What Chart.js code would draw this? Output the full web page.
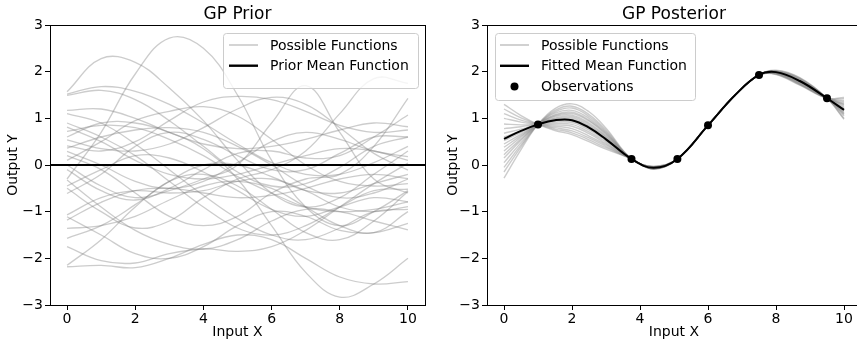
<!DOCTYPE html>
<html>
<head>
<meta charset="utf-8">
<script src="https://cdn.jsdelivr.net/npm/chart.js@4.4.0/dist/chart.umd.min.js"></script>
<style>
html, body { margin: 0; padding: 0; background: #fff; overflow: hidden; }
#prior_div { position: absolute; left: 0; top: 0; width: 440px; height: 348px; }
#posterior_div { position: absolute; left: 440px; top: 0; width: 430px; height: 348px; }
</style>
</head>
<body>
<div id="prior_div"><canvas id="prior_canvas" width="440" height="348"></canvas></div>
<div id="posterior_div"><canvas id="posterior_canvas" width="430" height="348"></canvas></div>
<script>
var x_ticks = [0, 2, 4, 6, 8, 10];
var y_ticks = [-3, -2, -1, 0, 1, 2, 3];

// prior draws, one row per function, sampled at prior_x
var prior_x = [0, 1, 2, 3, 4, 5, 6, 7, 8, 9, 10];
var prior_samples = [
    [-0.3, 0.7, 1.95, 2.72, 2.5, 1.5, 0.1, -0.9, -1.3, -1.0, -0.55],
    [1.57, 2.28, 2.2, 1.65, 0.95, 0.1, -0.6, -0.9, -0.7, -0.2, 0.3],
    [1.52, 1.68, 1.58, 1.3, 0.9, 0.45, 0.05, -0.2, -0.2, 0.05, 0.4],
    [1.49, 1.6, 1.4, 0.95, 0.4, -0.15, -0.45, -0.4, -0.05, 0.4, 0.6],
    [1.17, 1.2, 1.0, 0.7, 0.45, 0.35, 0.4, 0.55, 0.75, 0.9, 0.82],
    [0.81, 0.5, 0.1, -0.2, -0.3, -0.2, 0.0, 0.2, 0.35, 0.3, 0.1],
    [0.72, 0.85, 0.8, 0.55, 0.2, -0.25, -0.6, -0.9, -1.0, -0.95, -0.79],
    [0.54, 0.35, 0.3, 0.45, 0.8, 1.2, 1.45, 1.3, 0.8, 0.25, -0.11],
    [0.41, 0.3, 0.5, 0.95, 1.35, 1.47, 1.4, 1.15, 0.85, 0.7, 0.75],
    [0.36, 0.6, 0.75, 0.8, 0.7, 0.4, 0.0, -0.45, -0.7, -0.6, -0.3],
    [0.29, 0.0, -0.35, -0.5, -0.35, 0.05, 0.5, 0.7, 0.55, 0.3, 0.18],
    [0.1, 0.5, 0.95, 1.15, 1.25, 1.05, 0.55, 0.0, -0.35, -0.45, -0.4],
    [0.0, -0.45, -0.7, -0.55, -0.3, 0.0, 0.9, 1.7, 0.7, -0.3, -0.6],
    [-0.1, -0.55, -0.75, -0.5, -0.1, 0.25, 0.3, 0.15, 0.2, 0.6, 1.07],
    [-0.32, -0.9, -1.4, -1.7, -1.8, -1.6, -1.2, -0.95, -1.0, -1.2, -1.39],
    [-0.61, -0.2, 0.4, 0.7, 0.55, 0.2, -0.1, -0.1, 0.25, 0.6, 0.6],
    [-1.07, -0.7, -0.55, -0.6, -0.55, -0.35, -0.3, -0.55, -0.9, -1.0, -0.89],
    [-1.11, -1.5, -1.9, -2.0, -1.75, -1.3, -1.0, -1.1, -1.4, -1.45, -1.25],
    [-1.18, -0.8, -0.55, -0.5, -0.6, -0.7, -0.65, -0.5, -0.3, -0.2, -0.29],
    [-1.36, -1.3, -1.1, -0.75, -0.45, -0.35, -0.5, -0.9, -1.3, -1.45, -1.0],
    [-1.57, -1.3, -0.85, -0.35, 0.0, 0.0, -0.25, -0.55, -0.6, -0.4, -0.2],
    [-1.75, -2.05, -2.1, -1.9, -1.8, -1.85, -1.75, -1.4, -0.9, -0.4, 0.04],
    [-2.15, -1.6, -0.9, -0.35, -0.2, -0.45, -0.95, -1.45, -1.6, -1.2, -0.57],
    [-2.18, -2.15, -2.2, -2.0, -1.7, -1.5, -1.6, -2.0, -2.4, -2.55, -2.5],
    [0.6, 0.9, 0.9, 0.7, 0.35, -0.3, -1.3, -2.3, -2.83, -2.55, -2.0],
    [-0.5, -1.0, -1.35, -1.2, -0.7, -0.3, -0.1, 0.3, 1.1, 1.85, 1.75],
    [0.2, -0.1, -0.6, -1.1, -1.3, -1.1, -0.6, -0.3, -0.2, 0.4, 1.43],
    [0.9, 0.6, 0.2, -0.35, -0.9, -1.35, -1.5, -1.3, -0.9, -0.55, -0.52],
    [-0.45, -0.1, 0.2, 0.15, -0.15, -0.55, -0.95, -1.1, -0.9, -0.7, -0.79],
    [1.1, 0.9, 0.45, -0.1, -0.65, -1.15, -1.5, -1.6, -1.35, -1.0, -0.95]
];
var prior_mean_x = [-0.5, 10.5];
var prior_mean_y = [0, 0];

// posterior draws and fitted mean, sampled at post_x
var post_x = [0, 0.5, 1, 1.5, 2, 2.5, 3, 3.75, 4.4, 5.1, 6, 6.8, 7.5, 8, 8.7, 9.5, 10];
var post_mean = [0.56, 0.73, 0.87, 0.96, 0.96, 0.80, 0.55, 0.13, -0.06, 0.13, 0.85, 1.50, 1.93, 1.99, 1.80, 1.43, 1.18];
var post_samples = [
    [-0.28, 0.33, 0.87, 1.21, 1.31, 1.14, 0.79, 0.13, -0.03, 0.13, 0.85, 1.50, 1.93, 1.99, 1.79, 1.43, 1.20],
    [-0.15, 0.39, 0.87, 1.17, 1.26, 1.08, 0.75, 0.13, -0.03, 0.13, 0.85, 1.50, 1.93, 2.01, 1.85, 1.43, 1.05],
    [-0.05, 0.43, 0.87, 1.14, 1.22, 1.04, 0.72, 0.13, -0.04, 0.13, 0.85, 1.50, 1.93, 1.96, 1.74, 1.43, 1.35],
    [0.05, 0.48, 0.87, 1.11, 1.17, 1.00, 0.69, 0.13, -0.04, 0.13, 0.85, 1.50, 1.93, 2.00, 1.82, 1.43, 1.12],
    [0.15, 0.53, 0.87, 1.08, 1.13, 0.96, 0.67, 0.13, -0.04, 0.13, 0.85, 1.50, 1.93, 1.95, 1.72, 1.43, 1.42],
    [0.22, 0.56, 0.87, 1.06, 1.10, 0.94, 0.65, 0.13, -0.05, 0.13, 0.85, 1.50, 1.93, 2.03, 1.87, 1.43, 0.98],
    [0.30, 0.60, 0.87, 1.04, 1.07, 0.90, 0.62, 0.13, -0.05, 0.13, 0.85, 1.50, 1.93, 1.98, 1.78, 1.43, 1.25],
    [0.38, 0.63, 0.87, 1.01, 1.04, 0.87, 0.60, 0.13, -0.05, 0.13, 0.85, 1.50, 1.93, 1.99, 1.81, 1.43, 1.15],
    [0.45, 0.66, 0.87, 0.99, 1.01, 0.84, 0.58, 0.13, -0.06, 0.13, 0.85, 1.50, 1.93, 1.97, 1.76, 1.43, 1.30],
    [0.52, 0.70, 0.87, 0.97, 0.98, 0.82, 0.56, 0.13, -0.06, 0.13, 0.85, 1.50, 1.93, 2.01, 1.84, 1.43, 1.08],
    [0.60, 0.73, 0.87, 0.95, 0.94, 0.78, 0.54, 0.13, -0.06, 0.13, 0.85, 1.50, 1.93, 1.95, 1.73, 1.43, 1.38],
    [0.68, 0.77, 0.87, 0.92, 0.91, 0.75, 0.52, 0.13, -0.07, 0.13, 0.85, 1.50, 1.93, 1.98, 1.79, 1.43, 1.22],
    [0.78, 0.82, 0.87, 0.89, 0.87, 0.71, 0.49, 0.13, -0.07, 0.13, 0.85, 1.50, 1.93, 2.02, 1.86, 1.43, 1.00],
    [0.88, 0.86, 0.87, 0.86, 0.83, 0.67, 0.46, 0.13, -0.07, 0.13, 0.85, 1.50, 1.93, 1.97, 1.77, 1.43, 1.28],
    [1.00, 0.92, 0.87, 0.83, 0.78, 0.62, 0.43, 0.13, -0.08, 0.13, 0.85, 1.50, 1.93, 1.99, 1.80, 1.43, 1.18],
    [1.10, 0.96, 0.87, 0.80, 0.73, 0.58, 0.40, 0.13, -0.08, 0.13, 0.85, 1.50, 1.93, 1.94, 1.71, 1.43, 1.45],
    [1.20, 1.01, 0.87, 0.77, 0.69, 0.54, 0.37, 0.13, -0.09, 0.13, 0.85, 1.50, 1.93, 2.00, 1.83, 1.43, 1.10],
    [1.30, 1.06, 0.87, 0.74, 0.65, 0.50, 0.34, 0.13, -0.09, 0.13, 0.85, 1.50, 1.93, 1.97, 1.75, 1.43, 1.32]
];
var obs_x = [1.0, 3.75, 5.1, 6.0, 7.5, 9.5];
var obs_y = [0.87, 0.13, 0.13, 0.85, 1.93, 1.43];

var font_family = '"DejaVu Sans", "Liberation Sans", sans-serif';
var sample_color = 'rgba(128, 128, 128, 0.4)';

function to_points(xs, ys){
    var pts = [];
    for(var i = 0; i < xs.length; i++){
        pts.push({x: xs[i], y: ys[i]});
    }
    return pts;
}

function fmt_tick(v){
    return v < 0 ? '\u2212' + Math.abs(v) : '' + v;
}

function axis_options(y_width){
    var tick_font = {family: font_family, size: 14};
    var grid = {drawOnChartArea: false, drawTicks: true, tickLength: 5, tickColor: '#000', tickWidth: 1};
    return {
        x: {
            type: 'linear', min: -0.5, max: 10.5,
            afterFit: function(s){ s.height = 43; },
            afterBuildTicks: function(s){ s.ticks = x_ticks.map(function(v){ return {value: v}; }); },
            ticks: {color: '#000', font: tick_font, padding: 1, maxRotation: 0, autoSkip: false, callback: fmt_tick},
            grid: grid,
            border: {display: false},
            title: {display: true, text: 'Input X', color: '#000', font: tick_font, padding: {top: 0, bottom: 7}}
        },
        y: {
            type: 'linear', min: -3, max: 3,
            afterFit: function(s){ s.width = y_width; },
            afterBuildTicks: function(s){ s.ticks = y_ticks.map(function(v){ return {value: v}; }); },
            ticks: {color: '#000', font: tick_font, padding: 2, autoSkip: false, callback: fmt_tick},
            grid: grid,
            border: {display: false},
            title: {display: true, text: 'Output Y', color: '#000', font: tick_font, padding: {top: 5, bottom: 0}}
        }
    };
}

// axes box, title and a boxed legend drawn over the plot
var mpl_frame = {
    id: 'mpl_frame',
    afterDraw: function(chart, args, opts){
        var ctx = chart.ctx;
        var a = chart.chartArea;
        ctx.save();
        ctx.strokeStyle = '#000';
        ctx.lineWidth = 1;
        ctx.strokeRect(Math.round(a.left) + 0.5, Math.round(a.top) + 0.5,
            Math.round(a.right - a.left), Math.round(a.bottom - a.top));

        ctx.fillStyle = '#000';
        ctx.font = '17px ' + font_family;
        ctx.textAlign = 'center';
        ctx.textBaseline = 'alphabetic';
        ctx.fillText(opts.title, (a.left + a.right) / 2, opts.title_y);

        var lg = opts.legend;
        ctx.beginPath();
        ctx.roundRect(lg.x + 0.5, lg.y + 0.5, lg.w, lg.h, 3);
        ctx.fillStyle = 'rgba(255, 255, 255, 0.8)';
        ctx.fill();
        ctx.strokeStyle = '#cccccc';
        ctx.stroke();

        var row = 0;
        ctx.font = '14px ' + font_family;
        ctx.textAlign = 'left';
        ctx.textBaseline = 'middle';
        chart.data.datasets.forEach(function(ds){
            if(!ds.label) return;
            var y = lg.row0 + row * lg.row_gap;
            if(ds.showLine === false){
                ctx.beginPath();
                ctx.arc(lg.sample_x + lg.sample_w / 2, y, ds.pointRadius, 0, Math.PI * 2);
                ctx.fillStyle = ds.pointBackgroundColor;
                ctx.fill();
            } else {
                ctx.beginPath();
                ctx.moveTo(lg.sample_x, y);
                ctx.lineTo(lg.sample_x + lg.sample_w, y);
                ctx.strokeStyle = ds.borderColor;
                ctx.lineWidth = ds.borderWidth + 0.4;
                ctx.stroke();
            }
            ctx.fillStyle = '#000';
            ctx.fillText(ds.label, lg.text_x, y + 1);
            row++;
        });
        ctx.restore();
    }
};

function draw_prior(){
    var datasets = [];
    for(var i = 0; i < prior_samples.length; i++){
        datasets.push({
            label: i === 0 ? 'Possible Functions' : '',
            data: to_points(prior_x, prior_samples[i]),
            borderColor: sample_color, borderWidth: 1.3, tension: 0.4,
            pointRadius: 0, order: 2
        });
    }
    datasets.push({
        label: 'Prior Mean Function',
        data: to_points(prior_mean_x, prior_mean_y),
        borderColor: '#000', borderWidth: 2, pointRadius: 0, order: 1
    });

    new Chart(document.getElementById('prior_canvas'), {
        type: 'line',
        data: {datasets: datasets},
        options: {
            responsive: false,
            animation: false,
            layout: {padding: {top: 25, right: 15, left: 0, bottom: 0}},
            scales: axis_options(50),
            plugins: {
                legend: {display: false},
                tooltip: {enabled: false},
                mpl_frame: {
                    title: 'GP Prior', title_y: 19,
                    legend: {x: 223, y: 33, w: 195, h: 55, row0: 45, row_gap: 20.7,
                             sample_x: 229, sample_w: 29, text_x: 270}
                }
            }
        },
        plugins: [mpl_frame]
    });
}

function draw_posterior(){
    var datasets = [];
    for(var i = 0; i < post_samples.length; i++){
        datasets.push({
            label: i === 0 ? 'Possible Functions' : '',
            data: to_points(post_x, post_samples[i]),
            borderColor: sample_color, borderWidth: 1.4, tension: 0.4,
            pointRadius: 0, order: 2
        });
    }
    datasets.push({
        label: 'Fitted Mean Function',
        data: to_points(post_x, post_mean),
        borderColor: '#000', borderWidth: 2, tension: 0.4, pointRadius: 0, order: 1
    });
    datasets.push({
        label: 'Observations',
        data: to_points(obs_x, obs_y),
        showLine: false, borderColor: '#000', borderWidth: 0,
        pointRadius: 4, pointBackgroundColor: '#000', pointBorderWidth: 0, order: 0
    });

    new Chart(document.getElementById('posterior_canvas'), {
        type: 'line',
        data: {datasets: datasets},
        options: {
            responsive: false,
            animation: false,
            layout: {padding: {top: 25, right: 9, left: 0, bottom: 0}},
            scales: axis_options(47),
            plugins: {
                legend: {display: false},
                tooltip: {enabled: false},
                mpl_frame: {
                    title: 'GP Posterior', title_y: 19,
                    legend: {x: 55, y: 33, w: 200, h: 67, row0: 45, row_gap: 20.8,
                             sample_x: 60, sample_w: 29, text_x: 101}
                }
            }
        },
        plugins: [mpl_frame]
    });
}

draw_prior();
draw_posterior();
</script>
</body>
</html>
